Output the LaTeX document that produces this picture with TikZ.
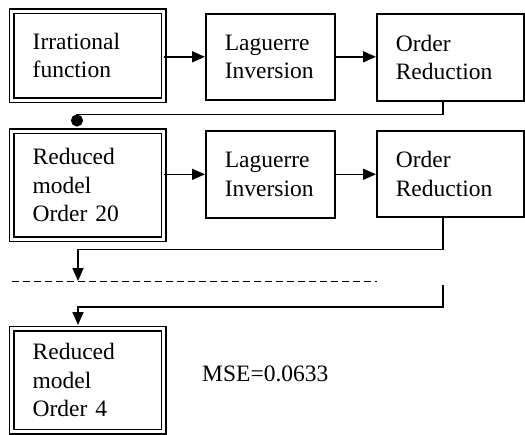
\documentclass[tikz,border=0pt]{standalone}
\usepackage{fontspec}
\setmainfont{Liberation Serif}
\usetikzlibrary{arrows.meta,calc}
\begin{document}
\begin{tikzpicture}[x=1pt,y=-1pt,
  every node/.style={font=\fontsize{23.5}{28.5}\selectfont},
  blk/.style={draw, line width=1.6pt, rectangle, anchor=north west, align=left, inner xsep=19pt, inner ysep=0pt},
  dblk/.style={blk, double, double distance=3.2pt, line width=1.4pt, inner xsep=21pt},
  conn/.style={line width=1.6pt},
  arr/.style={conn, -{Triangle[length=13pt,width=11pt]}},
  dot/.style={conn, -{Circle[length=12pt]}},
  dline/.style={line width=1pt, dash pattern=on 7pt off 4pt}
]
\useasboundingbox (0,0) rectangle (525,434);

\node[dblk, minimum width=152pt, minimum height=89pt, text width=110pt] (box1) at (11,10.5) {Irrational\\function};
\node[blk, minimum width=129pt, minimum height=86pt, text width=91pt] (box2) at (205,13) {Laguerre\\Inversion};
\node[blk, minimum width=147pt, minimum height=87pt, text width=109pt] (box3) at (376,13) {Order\\Reduction};

\node[dblk, minimum width=152pt, minimum height=108pt, text width=110pt] (box4) at (11,130.5) {Reduced\\model\\Order 20};
\node[blk, minimum width=129pt, minimum height=87pt, text width=91pt] (box5) at (205,130) {Laguerre\\Inversion};
\node[blk, minimum width=147pt, minimum height=86pt, text width=109pt] (box6) at (376,130) {Order\\Reduction};

\node[dblk, minimum width=152pt, minimum height=103pt, text width=110pt] (box7) at (11,328) {Reduced\\model\\Order 4};

\node[anchor=base west, inner sep=0pt] (mse) at (202,381) {MSE=0.0633};

% horizontal arrows
\draw[arr] (box1.east |- box2.west) -- (box2.west);
\draw[arr] (box2.east) -- (box3.west |- box2.east);
\draw[arr] (box4.east |- box5.west) -- (box5.west);
\draw[arr] (box5.east) -- (box6.west |- box5.east);

% feedback connectors
\coordinate (c1) at ([xshift=67pt]box3.south west);
\coordinate (d1) at ([xshift=66pt]box4.north west);
\draw[dot] (c1) |- ($(d1)+(0,-16)$) -- ([yshift=4pt]d1);

\coordinate (c2) at ([xshift=67pt]box6.south west);
\coordinate (d2) at (78,281);
\draw[arr] (c2) -- ++(0,32) -| (d2);

\coordinate (dl) at (12,281);
\coordinate (dr) at (377,281);
\draw[dline] (dl) -- (dr);

\coordinate (c3) at (443,285);
\coordinate (d3) at ([xshift=67pt,yshift=3pt]box7.north west);
\draw[arr] (c3) -- ++(0,22) -| (d3);
\end{tikzpicture}
\end{document}
